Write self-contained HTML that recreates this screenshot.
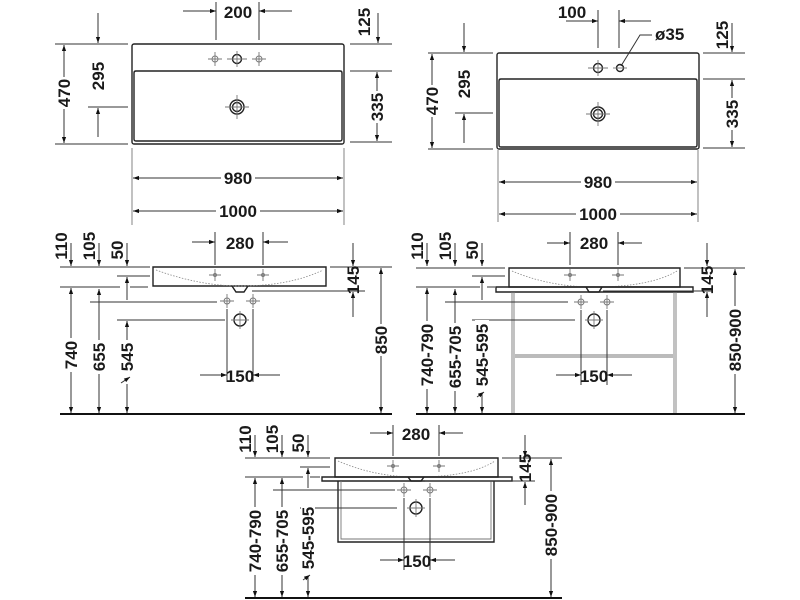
<!DOCTYPE html>
<html><head><meta charset="utf-8"><style>
html,body{margin:0;padding:0;background:#fff}
svg{display:block}
text{font-family:"Liberation Sans Narrow","Liberation Sans",sans-serif;font-weight:bold;font-size:17px;fill:#1a1a1a}
.d{stroke:#333;stroke-width:1;fill:none}
.o{stroke:#222;stroke-width:1.4;fill:none}
.g{stroke:#777;stroke-width:0.9;fill:none}
.dot{stroke:#888;stroke-width:0.8;fill:none;stroke-dasharray:1.5 1.5}
</style></head><body>
<svg width="800" height="600" viewBox="0 0 800 600" xmlns="http://www.w3.org/2000/svg">
<defs>
<marker id="a" viewBox="0 0 10 10" refX="10" refY="5" markerWidth="10" markerHeight="6" markerUnits="userSpaceOnUse" orient="auto"><path d="M0,1.5 L10,5 L0,8.5z" fill="#111"/></marker>
<g id="cr"><circle r="3" class="g"/><path d="M-7,0H7M0,-7V7" class="g"/></g>
<g id="pl"><path d="M-6,0H6M0,-6V6" class="g"/><circle r="1.5" class="g"/></g>
<g id="dr"><circle r="7" class="o"/><circle r="4.5" class="o"/><path d="M-12,0H12M0,-12V12" class="g"/></g>
</defs>

<!-- ===== TOP LEFT ===== -->
<rect x="132" y="44" width="212" height="100" rx="2" class="o"/>
<path d="M134,73 Q134,71 136,71 H340 Q342,71 342,73 V139 Q342,141 340,141 H136 Q134,141 134,139Z" class="o"/>
<use href="#cr" x="215" y="59"/><use href="#cr" x="259" y="59"/>
<circle cx="237" cy="59" r="4.5" class="o"/><path d="M227,59H247M237,51V67" class="g"/>
<use href="#dr" x="237" y="107"/>
<path d="M216,2V40M259,2V40" class="d"/>
<path d="M183,11H216" class="d" marker-end="url(#a)"/><path d="M292,11H259" class="d" marker-end="url(#a)"/>
<text x="238" y="18" text-anchor="middle">200</text>
<path d="M350,44H392M350,71H392M350,142H392" class="d"/>
<path d="M378,13V43" class="d" marker-end="url(#a)"/>
<text transform="translate(370,22) rotate(-90)" text-anchor="middle">125</text>
<path d="M377,107V72" class="d" marker-end="url(#a)"/><path d="M377,107V141" class="d" marker-end="url(#a)"/>
<rect x="370" y="91" width="14" height="32" fill="#fff"/>
<text transform="translate(383,107) rotate(-90)" text-anchor="middle">335</text>
<path d="M55,44H128M55,144H128M88,107H128" class="d"/>
<path d="M64,93V45" class="d" marker-end="url(#a)"/><path d="M64,93V143" class="d" marker-end="url(#a)"/>
<rect x="57" y="77" width="14" height="32" fill="#fff"/>
<text transform="translate(70,93) rotate(-90)" text-anchor="middle">470</text>
<path d="M98,13V43" class="d" marker-end="url(#a)"/><path d="M98,137V108" class="d" marker-end="url(#a)"/>
<text transform="translate(104,76) rotate(-90)" text-anchor="middle">295</text>
<path d="M132,148V225M344,148V225" class="g"/>
<path d="M238,178H133" class="d" marker-end="url(#a)"/><path d="M238,178H343" class="d" marker-end="url(#a)"/>
<rect x="221" y="169" width="34" height="18" fill="#fff"/>
<text x="238" y="184" text-anchor="middle">980</text>
<path d="M238,211H133" class="d" marker-end="url(#a)"/><path d="M238,211H343" class="d" marker-end="url(#a)"/>
<rect x="216" y="202" width="44" height="18" fill="#fff"/>
<text x="238" y="217" text-anchor="middle">1000</text>

<!-- ===== TOP RIGHT ===== -->
<rect x="497" y="53" width="202" height="96" rx="2" class="o"/>
<path d="M499,81 Q499,79 501,79 H695 Q697,79 697,81 V145 Q697,147 695,147 H501 Q499,147 499,145Z" class="o"/>
<circle cx="598" cy="68" r="4.5" class="o"/><path d="M588,68H608M598,60V76" class="g"/>
<circle cx="620" cy="68" r="3.5" class="o"/><path d="M613,68H627" class="g"/>
<use href="#dr" x="598" y="114"/>
<path d="M598,10V48M619,10V48" class="d"/>
<path d="M566,21H598" class="d" marker-end="url(#a)"/><path d="M651,21H619" class="d" marker-end="url(#a)"/>
<text x="572" y="18" text-anchor="middle">100</text>
<path d="M621,66L640,35H652" class="d"/>
<text x="655" y="40">ø35</text>
<path d="M703,53H745M703,79H745M703,148H745" class="d"/>
<path d="M732,23V52" class="d" marker-end="url(#a)"/>
<text transform="translate(728,35) rotate(-90)" text-anchor="middle">125</text>
<path d="M732,114V80" class="d" marker-end="url(#a)"/><path d="M732,114V147" class="d" marker-end="url(#a)"/>
<rect x="725" y="98" width="14" height="32" fill="#fff"/>
<text transform="translate(738,114) rotate(-90)" text-anchor="middle">335</text>
<path d="M428,53H493M428,149H493M455,113H493" class="d"/>
<path d="M432,101V54" class="d" marker-end="url(#a)"/><path d="M432,101V148" class="d" marker-end="url(#a)"/>
<rect x="425" y="85" width="14" height="32" fill="#fff"/>
<text transform="translate(438,101) rotate(-90)" text-anchor="middle">470</text>
<path d="M464,23V52" class="d" marker-end="url(#a)"/><path d="M464,143V114" class="d" marker-end="url(#a)"/>
<text transform="translate(470,84) rotate(-90)" text-anchor="middle">295</text>
<path d="M498,150V222M698,150V222" class="g"/>
<path d="M598,182H499" class="d" marker-end="url(#a)"/><path d="M598,182H697" class="d" marker-end="url(#a)"/>
<rect x="581" y="173" width="34" height="18" fill="#fff"/>
<text x="598" y="188" text-anchor="middle">980</text>
<path d="M598,214H499" class="d" marker-end="url(#a)"/><path d="M598,214H697" class="d" marker-end="url(#a)"/>
<rect x="576" y="205" width="44" height="18" fill="#fff"/>
<text x="598" y="220" text-anchor="middle">1000</text>

<!-- ===== MIDDLE LEFT ===== -->
<path d="M153,267H326V286H153Z" class="o"/>
<path d="M156,270 Q200,286 240,286 Q290,286 323,270" class="dot"/>
<path d="M232,286 L236,292 H244 L248,286" class="o"/>
<use href="#pl" x="215" y="275"/><use href="#pl" x="263" y="275"/>
<use href="#cr" x="227" y="301"/><use href="#cr" x="253" y="301"/>
<circle cx="240" cy="320" r="6" class="o"/><path d="M231,320H249M240,311V329" class="g"/>
<path d="M215,232V265M263,232V265" class="d"/>
<path d="M192,242H215" class="d" marker-end="url(#a)"/><path d="M288,242H263" class="d" marker-end="url(#a)"/>
<text x="240" y="249" text-anchor="middle">280</text>
<path d="M227,309V382M253,309V382" class="d"/>
<path d="M200,375H227" class="d" marker-end="url(#a)"/><path d="M280,375H253" class="d" marker-end="url(#a)"/>
<text x="240" y="382" text-anchor="middle">150</text>
<path d="M60,414H392" stroke="#111" stroke-width="2"/>
<path d="M60,267H150M60,287H120M130,287H148M117,276H150M90,302H217M117,320H225" class="d"/>
<path d="M71,243V266" class="d" marker-end="url(#a)"/><path d="M99,243V266" class="d" marker-end="url(#a)"/><path d="M127,243V266" class="d" marker-end="url(#a)"/>
<text transform="translate(67,246) rotate(-90)" text-anchor="middle">110</text>
<text transform="translate(95,246) rotate(-90)" text-anchor="middle">105</text>
<text transform="translate(123,250) rotate(-90)" text-anchor="middle">50</text>
<path d="M127,300V277" class="d" marker-end="url(#a)"/>
<path d="M71,355V288" class="d" marker-end="url(#a)"/><path d="M71,355V413" class="d" marker-end="url(#a)"/>
<rect x="64" y="338" width="14" height="34" fill="#fff"/>
<text transform="translate(77,355) rotate(-90)" text-anchor="middle">740</text>
<path d="M99,357V289" class="d" marker-end="url(#a)"/><path d="M99,357V413" class="d" marker-end="url(#a)"/>
<rect x="92" y="340" width="14" height="34" fill="#fff"/>
<text transform="translate(105,357) rotate(-90)" text-anchor="middle">655</text>
<path d="M127,357V321" class="d" marker-end="url(#a)"/><path d="M127,357V413" class="d" marker-end="url(#a)"/>
<rect x="120" y="340" width="14" height="44" fill="#fff"/>
<text transform="translate(133,357) rotate(-90)" text-anchor="middle">545</text>
<path d="M121,383L130,377" class="d" marker-end="url(#a)"/>
<path d="M330,267H392M252,291H365" class="d"/>
<path d="M353,243V266" class="d" marker-end="url(#a)"/><path d="M353,317V292" class="d" marker-end="url(#a)"/>
<text transform="translate(359,280) rotate(-90)" text-anchor="middle">145</text>
<path d="M381,340V268" class="d" marker-end="url(#a)"/><path d="M381,340V413" class="d" marker-end="url(#a)"/>
<rect x="374" y="324" width="14" height="32" fill="#fff"/>
<text transform="translate(387,340) rotate(-90)" text-anchor="middle">850</text>

<!-- ===== MIDDLE RIGHT ===== -->
<path d="M509,268H680V287H509Z" class="o"/>
<path d="M512,271 Q550,287 594,287 Q650,287 677,271" class="dot"/>
<path d="M496,287H693V292H496Z" class="o"/>
<path d="M586,287 L589,292 H599 L602,287" class="o"/>
<path d="M512,292V414M514,292V414M674,292V414M676,292V414" class="g"/>
<path d="M515,355H673M515,357H673" class="g"/>
<use href="#pl" x="570" y="275"/><use href="#pl" x="618" y="275"/>
<use href="#cr" x="581" y="302"/><use href="#cr" x="607" y="302"/>
<circle cx="594" cy="320" r="6" class="o"/><path d="M585,320H603M594,311V329" class="g"/>
<path d="M570,232V265M618,232V265" class="d"/>
<path d="M547,243H570" class="d" marker-end="url(#a)"/><path d="M642,243H618" class="d" marker-end="url(#a)"/>
<text x="594" y="249" text-anchor="middle">280</text>
<path d="M581,310V385M607,310V385" class="d"/>
<path d="M556,375H581" class="d" marker-end="url(#a)"/><path d="M632,375H607" class="d" marker-end="url(#a)"/>
<text x="594" y="382" text-anchor="middle">150</text>
<path d="M416,414H745" stroke="#111" stroke-width="2"/>
<path d="M416,268H505M416,287H480M487,287H495M472,276H505M445,302H568M472,320H575" class="d"/>
<path d="M427,243V266" class="d" marker-end="url(#a)"/><path d="M455,243V266" class="d" marker-end="url(#a)"/><path d="M482,243V266" class="d" marker-end="url(#a)"/>
<text transform="translate(423,246) rotate(-90)" text-anchor="middle">110</text>
<text transform="translate(451,246) rotate(-90)" text-anchor="middle">105</text>
<text transform="translate(478,250) rotate(-90)" text-anchor="middle">50</text>
<path d="M482,300V277" class="d" marker-end="url(#a)"/>
<path d="M427,355V288" class="d" marker-end="url(#a)"/><path d="M427,355V413" class="d" marker-end="url(#a)"/>
<rect x="420" y="321" width="14" height="68" fill="#fff"/>
<text transform="translate(433,355) rotate(-90)" text-anchor="middle">740-790</text>
<path d="M455,357V289" class="d" marker-end="url(#a)"/><path d="M455,357V413" class="d" marker-end="url(#a)"/>
<rect x="448" y="323" width="14" height="68" fill="#fff"/>
<text transform="translate(461,357) rotate(-90)" text-anchor="middle">655-705</text>
<path d="M482,350V321" class="d" marker-end="url(#a)"/><path d="M482,350V413" class="d" marker-end="url(#a)"/>
<rect x="475" y="320" width="14" height="74" fill="#fff"/>
<text transform="translate(488,355) rotate(-90)" text-anchor="middle">545-595</text>
<path d="M477,397L484,392" class="d" marker-end="url(#a)"/>
<path d="M684,268H745M603,291H712" class="d"/>
<path d="M707,243V266" class="d" marker-end="url(#a)"/><path d="M707,317V292" class="d" marker-end="url(#a)"/>
<text transform="translate(713,280) rotate(-90)" text-anchor="middle">145</text>
<path d="M735,340V269" class="d" marker-end="url(#a)"/><path d="M735,340V413" class="d" marker-end="url(#a)"/>
<rect x="728" y="306" width="14" height="68" fill="#fff"/>
<text transform="translate(741,340) rotate(-90)" text-anchor="middle">850-900</text>

<!-- ===== BOTTOM ===== -->
<path d="M335,458H498V477H335Z" class="o"/>
<path d="M338,461 Q375,477 416,477 Q470,477 495,461" class="dot"/>
<path d="M322,477H512V481H322Z" class="o"/>
<path d="M408,477 L411,481 H421 L424,477" class="o"/>
<path d="M338,481V542H494V481" class="o"/><path d="M341,481V539H491V481" class="g"/>
<use href="#pl" x="393" y="466"/><use href="#pl" x="439" y="466"/>
<use href="#cr" x="404" y="490"/><use href="#cr" x="430" y="490"/>
<circle cx="416" cy="508" r="6" class="o"/><path d="M407,508H425M416,499V517" class="g"/>
<path d="M393,425V456M439,425V456" class="d"/>
<path d="M370,433H393" class="d" marker-end="url(#a)"/><path d="M463,433H439" class="d" marker-end="url(#a)"/>
<text x="416" y="440" text-anchor="middle">280</text>
<path d="M404,498V570M430,498V570" class="d"/>
<path d="M380,560H404" class="d" marker-end="url(#a)"/><path d="M455,560H430" class="d" marker-end="url(#a)"/>
<text x="417" y="567" text-anchor="middle">150</text>
<path d="M245,598H562" stroke="#111" stroke-width="2"/>
<path d="M245,458H330M245,477H303M310,477H320M300,467H330M273,490H395M300,508H397" class="d"/>
<path d="M255,435V457" class="d" marker-end="url(#a)"/><path d="M282,435V457" class="d" marker-end="url(#a)"/><path d="M308,435V457" class="d" marker-end="url(#a)"/>
<text transform="translate(251,439) rotate(-90)" text-anchor="middle">110</text>
<text transform="translate(278,439) rotate(-90)" text-anchor="middle">105</text>
<text transform="translate(304,443) rotate(-90)" text-anchor="middle">50</text>
<path d="M308,488V468" class="d" marker-end="url(#a)"/>
<path d="M255,541V478" class="d" marker-end="url(#a)"/><path d="M255,541V597" class="d" marker-end="url(#a)"/>
<rect x="248" y="507" width="14" height="68" fill="#fff"/>
<text transform="translate(261,541) rotate(-90)" text-anchor="middle">740-790</text>
<path d="M282,541V478" class="d" marker-end="url(#a)"/><path d="M282,541V597" class="d" marker-end="url(#a)"/>
<rect x="275" y="507" width="14" height="68" fill="#fff"/>
<text transform="translate(288,541) rotate(-90)" text-anchor="middle">655-705</text>
<path d="M308,535V509" class="d" marker-end="url(#a)"/><path d="M308,535V597" class="d" marker-end="url(#a)"/>
<rect x="301" y="503" width="14" height="74" fill="#fff"/>
<text transform="translate(314,538) rotate(-90)" text-anchor="middle">545-595</text>
<path d="M303,580L310,575" class="d" marker-end="url(#a)"/>
<path d="M502,458H562M425,481H535" class="d"/>
<path d="M525,435V457" class="d" marker-end="url(#a)"/><path d="M525,505V482" class="d" marker-end="url(#a)"/>
<text transform="translate(531,468) rotate(-90)" text-anchor="middle">145</text>
<path d="M551,525V459" class="d" marker-end="url(#a)"/><path d="M551,525V597" class="d" marker-end="url(#a)"/>
<rect x="544" y="491" width="14" height="68" fill="#fff"/>
<text transform="translate(557,525) rotate(-90)" text-anchor="middle">850-900</text>
</svg>
</body></html>
